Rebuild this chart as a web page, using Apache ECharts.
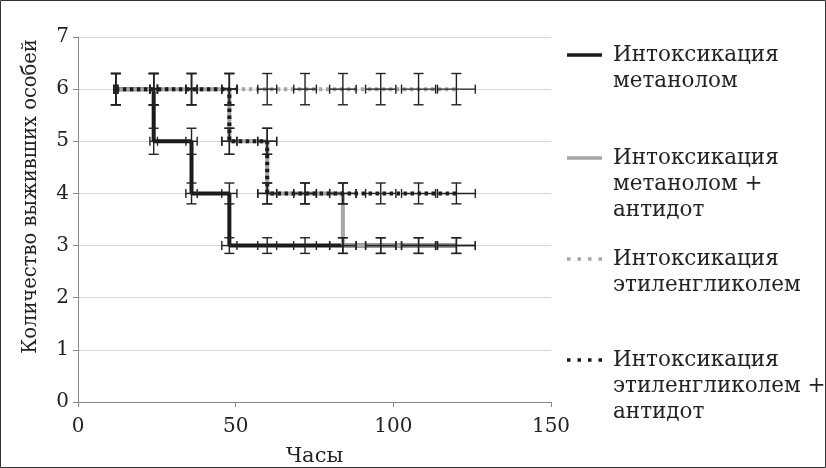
<!DOCTYPE html>
<html>
<head>
<meta charset="utf-8">
<script src="https://cdn.jsdelivr.net/npm/echarts@6/dist/echarts.min.js"></script>
<style>
html,body{margin:0;padding:0;background:#fff;}
#c{width:826px;height:468px;}
</style>
</head>
<body>
<div id="c"></div>
<script>
// ---- data ----
const seriesNames = [
  'Интоксикация\nметанолом',
  'Интоксикация\nметанолом +\nантидот',
  'Интоксикация\nэтиленгликолем',
  'Интоксикация\nэтиленгликолем +\nантидот'
];
const metX    = [12, 24, 24, 36, 36, 48, 48, 60, 72, 84, 96, 108, 120];
const metY    = [6, 6, 5, 5, 4, 4, 3, 3, 3, 3, 3, 3, 3];
const metAntX = [12, 24, 36, 48, 48, 60, 60, 72, 84, 84, 96, 108, 120];
const metAntY = [6, 6, 6, 6, 5, 5, 4, 4, 4, 3, 3, 3, 3];
const egX     = [12, 24, 36, 48, 60, 72, 84, 96, 108, 120];
const egY     = [6, 6, 6, 6, 6, 6, 6, 6, 6, 6];
const egAntX  = [12, 24, 36, 48, 48, 60, 60, 72, 84, 96, 108, 120];
const egAntY  = [6, 6, 6, 6, 5, 5, 4, 4, 4, 4, 4, 4];
const errPct = 0.05; // 5% error bars on both axes
const xTicks = [0, 50, 100, 150];
const yTicks = [0, 1, 2, 3, 4, 5, 6, 7];
const xTitle = 'Часы';
const yTitle = 'Количество выживших особей';

// ---- chart ----
const FONT = 'DejaVu Serif';
const zip = (xs, ys) => xs.map((x, i) => [x, ys[i]]);
const sets = [zip(metX, metY), zip(metAntX, metAntY), zip(egX, egY), zip(egAntX, egAntY)];
const lineStyles = [
  {color: '#1a1a1a', width: 4, type: 'solid'},
  {color: '#a6a6a6', width: 4, type: 'solid'},
  {color: '#a6a6a6', width: 4, type: [3.5, 3.5]},
  {color: '#1a1a1a', width: 4, type: [3.5, 3.5]}
];
const DOTS = 'path://M0,0h3.5v3.5h-3.5zM10.5,0h3.5v3.5h-3.5zM21,0h3.5v3.5h-3.5zM31.5,0h3.5v3.5h-3.5z';
const icons = ['rect', 'rect', DOTS, DOTS];

const series = [];
sets.forEach((d, i) => {
  series.push({
    type: 'line', name: seriesNames[i], data: d, symbol: 'none',
    lineStyle: lineStyles[i], itemStyle: {color: lineStyles[i].color},
    z: 2 + i, animation: false
  });
});
sets.forEach((d, i) => {
  series.push({
    type: 'custom', data: d, z: 10, animation: false, silent: true,
    renderItem: function (params, api) {
      const x = api.value(0), y = api.value(1);
      const t = api.coord([x, y * (1 + errPct)]);
      const b = api.coord([x, y * (1 - errPct)]);
      const l = api.coord([x * (1 - errPct), y]);
      const r = api.coord([x * (1 + errPct), y]);
      const cw = 5, ch = 4.5;
      const st = {stroke: '#222', lineWidth: 1.4};
      const ln = (x1, y1, x2, y2) => ({type: 'line', shape: {x1, y1, x2, y2}, style: st});
      return {type: 'group', children: [
        ln(t[0], t[1], b[0], b[1]),
        ln(t[0] - cw, t[1], t[0] + cw, t[1]),
        ln(b[0] - cw, b[1], b[0] + cw, b[1]),
        ln(l[0], l[1], r[0], r[1]),
        ln(l[0], l[1] - ch, l[0], l[1] + ch),
        ln(r[0], r[1] - ch, r[0], r[1] + ch)
      ]};
    }
  });
});

const iconCenters = [55, 158, 259, 360];
const LH = 26;
const legends = seriesNames.map((nm, i) => {
  const n = nm.split('\n').length;
  const total = 2 * n - 1;
  return {
    data: [{name: nm, icon: icons[i]}], left: 567, top: iconCenters[i] - total * LH / 2,
    padding: 0, itemWidth: 35, itemHeight: 3.5, selectedMode: false,
    formatter: (name) => '\n'.repeat(n - 1) + name,
    textStyle: {fontFamily: FONT, fontSize: 21.5, color: '#222', lineHeight: LH, padding: [0, 0, 0, 6]}
  };
});

const chart = echarts.init(document.getElementById('c'), null, {renderer: 'canvas'});
chart.setOption({
  animation: false,
  backgroundColor: '#fff',
  grid: {left: 78, right: 275, top: 37, bottom: 66, containLabel: false, outerBoundsMode: 'none'},
  xAxis: {
    type: 'value', min: xTicks[0], max: xTicks[xTicks.length - 1], interval: 50,
    name: xTitle, nameLocation: 'middle', nameGap: 44,
    nameTextStyle: {fontFamily: FONT, fontSize: 21, color: '#222'},
    axisLine: {show: true, lineStyle: {color: '#888', width: 1}},
    axisTick: {show: true, length: 5, lineStyle: {color: '#888'}},
    axisLabel: {fontFamily: FONT, fontSize: 20, color: '#222', margin: 15},
    splitLine: {show: false}
  },
  yAxis: {
    type: 'value', min: yTicks[0], max: yTicks[yTicks.length - 1], interval: 1,
    name: yTitle, nameLocation: 'middle', nameGap: 37,
    nameTextStyle: {fontFamily: FONT, fontSize: 19.5, color: '#222', padding: [0, 0, 0, 46]},
    axisLine: {show: true, lineStyle: {color: '#888', width: 1}},
    axisTick: {show: true, length: 5, lineStyle: {color: '#888'}},
    axisLabel: {fontFamily: FONT, fontSize: 20, color: '#222', margin: 9},
    splitLine: {show: true, lineStyle: {color: '#d4d4d4', width: 1}}
  },
  legend: legends,
  graphic: [{
    type: 'rect', shape: {x: 0.5, y: 0.5, width: 825, height: 467},
    style: {fill: 'none', stroke: '#333', lineWidth: 1}, z: 100
  }],
  series: series
});
</script>
</body>
</html>
